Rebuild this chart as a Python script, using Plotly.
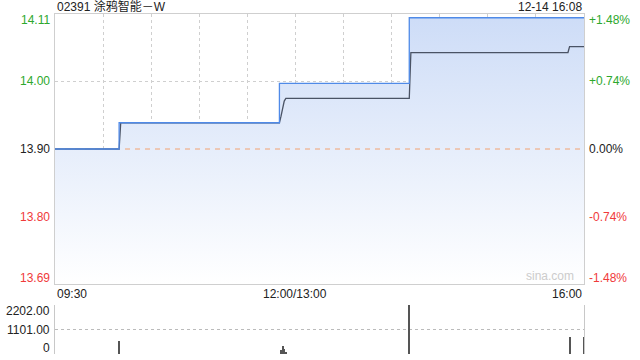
import numpy as np
import plotly.graph_objects as go

# ---------------- data ----------------
title_text = "02391 涂鸦智能－W"
stamp_text = "12-14 16:08"
prev_close = 13.90
pct_span = 1.48  # % range shown on the right axis

# minutes since 09:30 on a compressed trading-time axis (lunch removed)
price_t = [0, 40, 140, 221, 330]
price_v = [13.90, 13.94, 14.00, 14.10, 14.10]

avg_t = [0, 40, 41, 140, 141, 142, 143, 144, 221, 222, 320, 321, 330]
avg_v = [13.90, 13.90, 13.94, 13.94, 13.950, 13.965, 13.973, 13.977, 13.977, 14.047, 14.047, 14.056, 14.056]

vol_t = [40, 141, 142, 143, 144, 221, 321, 330]
vol_v = [590, 160, 360, 240, 90, 2202, 760, 760]

time_ticks = [0, 150, 330]
time_labels = ["09:30", "12:00/13:00", "16:00"]
vol_max = 2202

# ---------------- derived ----------------
ymin = prev_close * (1 - pct_span / 100)
ymax = prev_close * (1 + pct_span / 100)
grid_y = list(np.linspace(ymin, ymax, 5))
grid_pct = list(np.linspace(-pct_span, pct_span, 5))
grid_x = list(range(0, 331, 30))

GREEN = "#2da82d"
RED = "#f03a3a"
DARK = "#222222"
GRID = "#cfcfcf"
FONT = "Arial, Liberation Sans, Noto Sans CJK SC, sans-serif"

W, H = 640, 360
x_dom = [55 / W, 584 / W]
main_dom = [1 - 284 / H, 1 - 14 / H]
vol_dom = [1 - 354 / H, 1 - 305 / H]

fig = go.Figure()

# fill under the price line
fig.add_trace(go.Scatter(
    x=price_t, y=price_v, mode="lines", line=dict(width=0, shape="hv"),
    fill="tozeroy",
    fillgradient=dict(type="vertical", start=ymin, stop=ymax,
                      colorscale=[[0, "rgba(255,255,255,1)"], [1, "#cddcf7"]]),
    hoverinfo="skip", showlegend=False, xaxis="x", yaxis="y"))

# previous close dashed line
fig.add_trace(go.Scatter(
    x=[time_ticks[0], time_ticks[-1]], y=[prev_close, prev_close], mode="lines",
    line=dict(color="#f2a272", width=1, dash="5px,5px"),
    hoverinfo="skip", showlegend=False, xaxis="x", yaxis="y"))

# average price line
fig.add_trace(go.Scatter(
    x=avg_t, y=avg_v, mode="lines", line=dict(color="#4a5365", width=1.3),
    hoverinfo="skip", showlegend=False, xaxis="x", yaxis="y"))

# price line
fig.add_trace(go.Scatter(
    x=price_t, y=price_v, mode="lines", line=dict(color="#4f8ae8", width=1.3, shape="hv"),
    hoverinfo="skip", showlegend=False, xaxis="x", yaxis="y"))

# volume bars
fig.add_trace(go.Bar(
    x=vol_t, y=vol_v, width=0.7, marker=dict(color="#555555", line=dict(width=0)),
    hoverinfo="skip", showlegend=False, xaxis="x2", yaxis="y2"))

fig.update_layout(
    width=W, height=H, margin=dict(l=0, r=0, t=0, b=0),
    paper_bgcolor="white", plot_bgcolor="white",
    font=dict(family=FONT, size=12, color=DARK),
    xaxis=dict(domain=x_dom, range=[0, 330], tickvals=grid_x, showticklabels=False,
               showgrid=True, gridcolor=GRID, griddash="dot", gridwidth=1,
               showline=True, linecolor=GRID, mirror=True, zeroline=False, ticks=""),
    yaxis=dict(domain=main_dom, range=[ymin, ymax], tickvals=grid_y, showticklabels=False,
               showgrid=True, gridcolor=GRID, griddash="dot", gridwidth=1,
               showline=True, linecolor=GRID, mirror=True, zeroline=False, ticks=""),
    xaxis2=dict(domain=x_dom, range=[0, 330], matches="x", showticklabels=False,
                showgrid=False, showline=False, zeroline=False, ticks="", anchor="y2"),
    yaxis2=dict(domain=vol_dom, range=[0, vol_max], tickvals=[0, vol_max / 2, vol_max],
                showticklabels=False, showgrid=True, gridcolor="#bbbbbb", griddash="dot",
                showline=True, linecolor="#c8c8c8", mirror=True, zeroline=False, ticks="",
                anchor="x2"),
    bargap=0,
)

ann = []
# title + timestamp
ann.append(dict(text=title_text, xref="paper", yref="paper", x=x_dom[0], y=main_dom[1],
                xanchor="left", yanchor="bottom", showarrow=False, yshift=-2,
                font=dict(size=12, color=DARK)))
ann.append(dict(text=stamp_text, xref="paper", yref="paper", x=x_dom[1], y=main_dom[1],
                xanchor="right", yanchor="bottom", showarrow=False, yshift=-2,
                font=dict(size=12, color=DARK)))

# price / percent labels
for i, (v, p) in enumerate(zip(grid_y, grid_pct)):
    if abs(p) < 1e-9:
        col = DARK
        ptxt = "0.00%"
    elif p > 0:
        col = GREEN
        ptxt = f"+{p:.2f}%"
    else:
        col = RED
        ptxt = f"{p:.2f}%"
    ys = 0
    if i == 0:
        ys = 6
    elif i == len(grid_y) - 1:
        ys = -6
    ann.append(dict(text=f"{v:.2f}", xref="paper", yref="y", x=x_dom[0], y=v,
                    xanchor="right", yanchor="middle", xshift=-3, yshift=ys,
                    showarrow=False, font=dict(size=12, color=col)))
    ann.append(dict(text=ptxt, xref="paper", yref="y", x=x_dom[1], y=v,
                    xanchor="left", yanchor="middle", xshift=3, yshift=ys,
                    showarrow=False, font=dict(size=12, color=col)))

# time labels
anchors = ["left", "center", "right"]
for t, lab, a in zip(time_ticks, time_labels, anchors):
    ann.append(dict(text=lab, xref="x", yref="paper", x=t, y=main_dom[0],
                    xanchor=a, yanchor="top", showarrow=False, yshift=-1,
                    font=dict(size=12, color=DARK)))

# volume labels
vol_labels = ["0", f"{vol_max/2:.2f}", f"{vol_max:.2f}"]
for v, lab, ys in zip([0, vol_max / 2, vol_max], vol_labels, [6, 0, -6]):
    ann.append(dict(text=lab, xref="paper", yref="y2", x=x_dom[0], y=v,
                    xanchor="right", yanchor="middle", xshift=-3, yshift=ys,
                    showarrow=False, font=dict(size=12, color=DARK)))

# watermark
ann.append(dict(text="sina.com", xref="x", yref="y", x=330, y=ymin,
                xanchor="right", yanchor="bottom", xshift=-8, yshift=-1,
                showarrow=False, font=dict(size=12, color="#cccccc")))

fig.update_layout(annotations=ann)
fig.write_html("out.html")
